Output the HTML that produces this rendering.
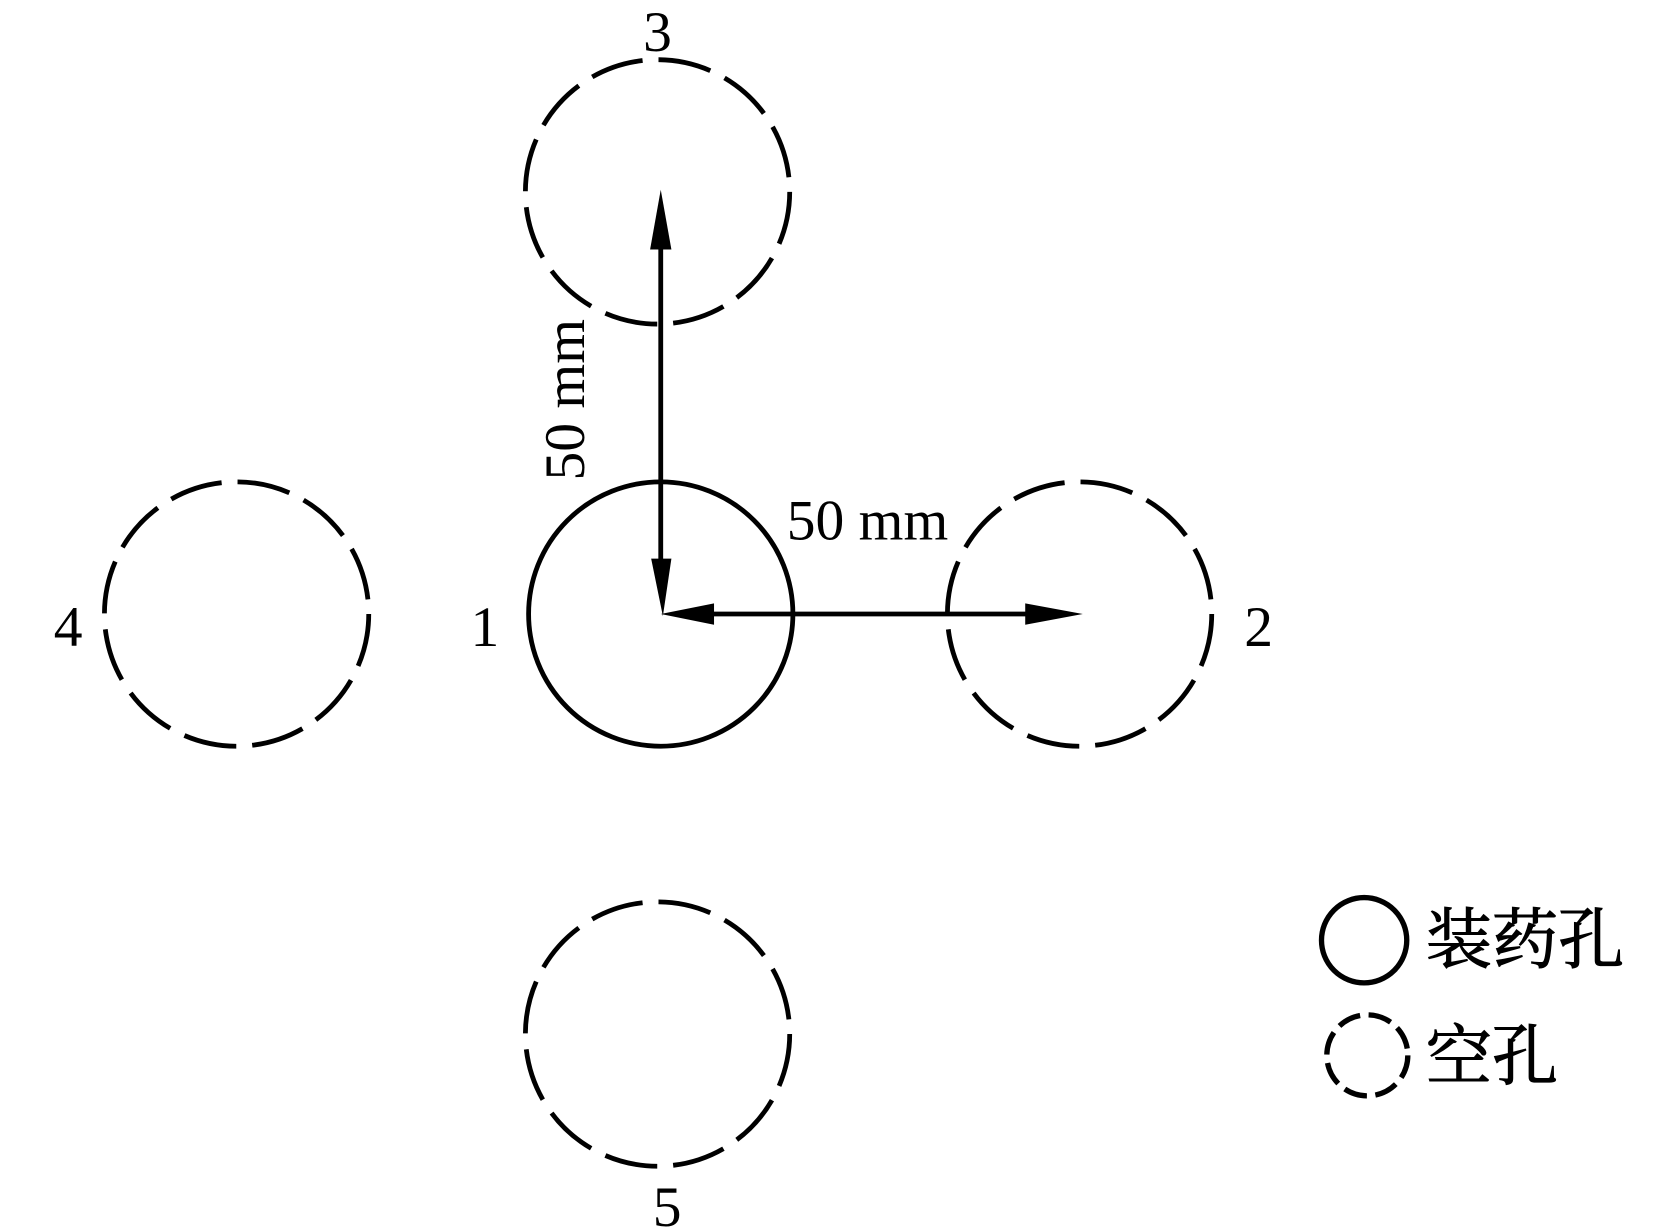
<!DOCTYPE html>
<html><head><meta charset="utf-8"><style>html,body{margin:0;padding:0;background:#fff}svg{display:block}</style></head>
<body>
<svg width="1654" height="1227" viewBox="0 0 1552 1151" preserveAspectRatio="none" xmlns="http://www.w3.org/2000/svg">
<g fill="none" stroke="#000" stroke-width="4.5">
<circle cx="620" cy="576" r="124"/>
<g stroke-dasharray="50 15">
<circle cx="617" cy="180" r="124"/>
<circle cx="1013" cy="576" r="124"/>
<circle cx="222" cy="576" r="124"/>
<circle cx="617" cy="970" r="124"/>
<circle cx="1283" cy="990" r="38" stroke-width="5" stroke-dasharray="22 8"/>
</g>
<circle cx="1280" cy="882" r="40" stroke-width="5"/>
<line x1="620" y1="225" x2="620" y2="530"/>
<line x1="660" y1="576" x2="970" y2="576"/>
</g>
<g fill="#000">
<polygon points="620,178 610,234 630,234"/>
<polygon points="622,578 611,524 630,524"/>
<polygon points="620,576 670,566 670,586"/>
<polygon points="1016,576 962,566 962,586"/>
</g>
<g font-family="Liberation Serif, serif" font-size="54" fill="#000" text-anchor="middle">
<text x="617" y="48">3</text>
<text x="455" y="606">1</text>
<text x="1181" y="606">2</text>
<text x="64" y="606">4</text>
<text x="626" y="1150">5</text>
<text x="814" y="506">50 mm</text>
<text transform="translate(548,375) rotate(-90)" x="0" y="0">50 mm</text>
</g>
<g font-family="Liberation Serif, 'Noto Serif CJK SC', serif" font-size="62" fill="#000" stroke="#000" stroke-width="1">
<text x="1338" y="903">装药孔</text>
<text x="1338" y="1012">空孔</text>
</g>
</svg>
</body></html>
